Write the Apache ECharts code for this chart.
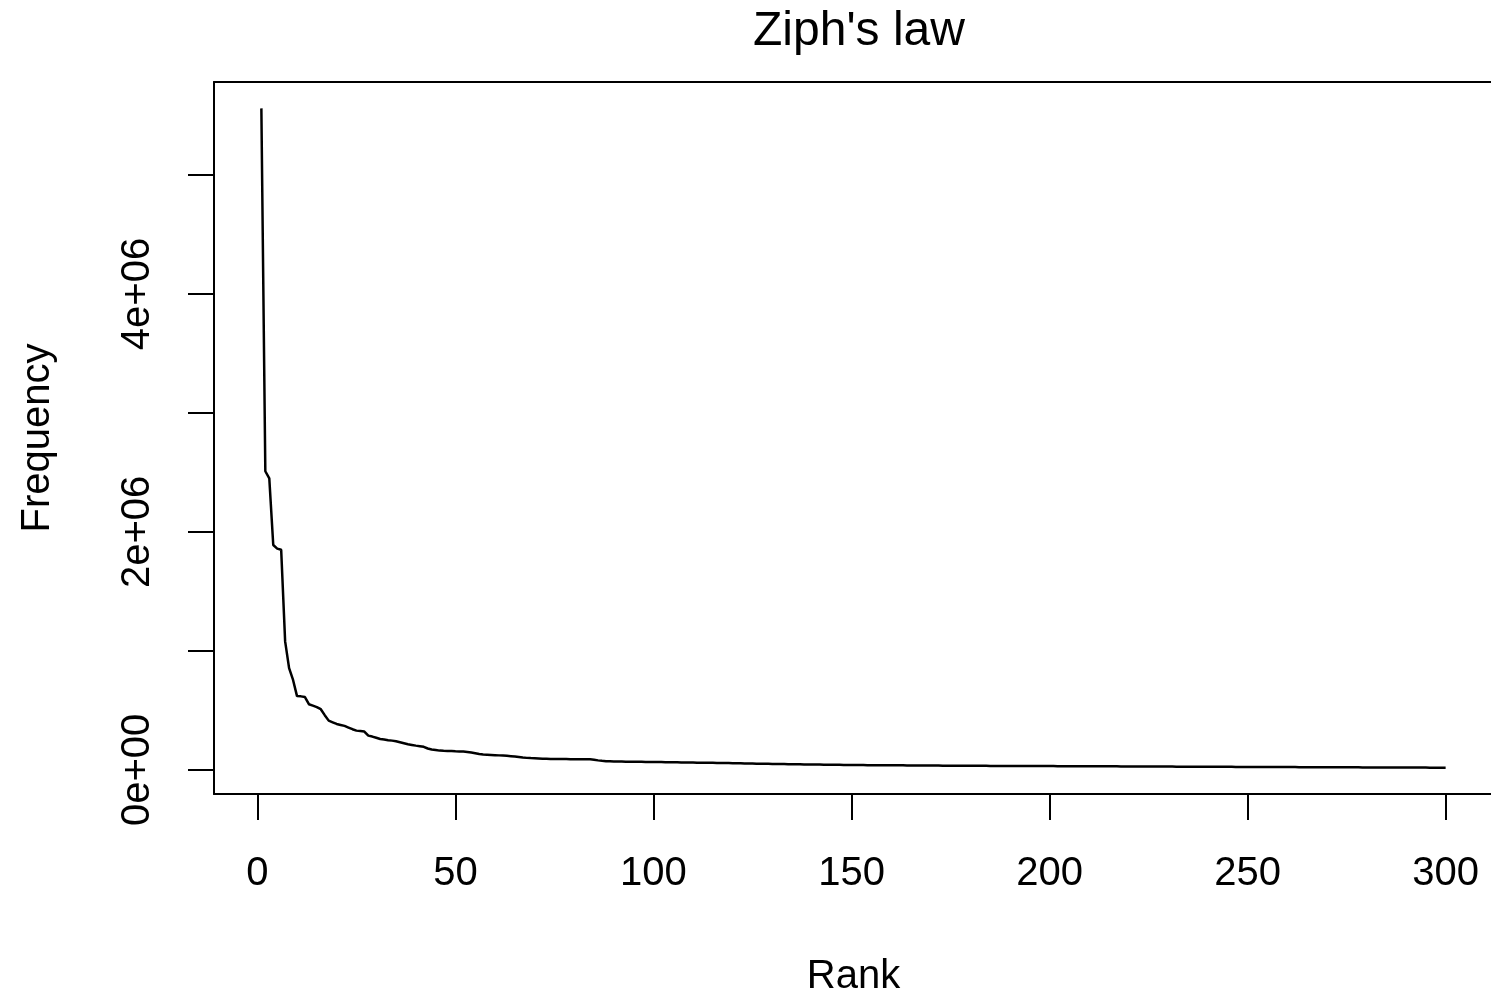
<!DOCTYPE html>
<html>
<head>
<meta charset="utf-8">
<title>Ziph's law</title>
<script src="https://cdn.jsdelivr.net/npm/echarts@6/dist/echarts.min.js"></script>
<style>
  html, body { margin: 0; padding: 0; background: #fff; }
  #chart { width: 1491px; height: 997px; }
</style>
</head>
<body>
<div id="chart"></div>
<script>
// Word frequency by rank (frequency in thousands of occurrences), ranks 1..300
const freqThousands = [
  5560, 2510, 2450, 1890, 1860, 1850, 1080, 855, 756, 620,
  618, 612, 552, 540, 528, 510, 460, 414, 400, 386,
  378, 370, 356, 342, 330, 326, 322, 288, 280, 270,
  260, 256, 250, 246, 240, 232, 224, 216, 210, 204,
  199, 194, 180, 172, 168, 162, 160, 159, 158, 156,
  155, 154, 151, 146, 140, 134, 130, 128, 126, 124,
  122, 120, 118, 115, 112, 108, 104, 101, 99, 98,
  96, 94, 93, 92, 92, 91, 91, 91, 90, 90,
  90, 90, 89, 89, 86, 80, 76, 73, 72, 71,
  70, 70, 69, 69, 68, 68, 68, 67, 67, 67,
  66, 66, 65, 65, 64, 64, 63, 63, 62, 62,
  61, 61, 60, 59, 59, 58, 58, 57, 57, 56,
  55, 55, 54, 53, 53, 52, 52, 51, 51, 50,
  50, 49, 49, 48, 48, 47, 47, 46, 46, 45,
  45, 45, 44, 44, 43, 43, 43, 42, 42, 42,
  41, 41, 41, 40, 40, 39, 39, 39, 39, 38,
  38, 38, 38, 37, 37, 37, 37, 36, 36, 36,
  36, 36, 35, 35, 35, 35, 35, 35, 34, 34,
  34, 34, 34, 34, 33, 33, 33, 33, 33, 33,
  33, 33, 32, 32, 32, 32, 32, 32, 32, 32,
  32, 31, 31, 31, 31, 31, 31, 31, 31, 31,
  30, 30, 30, 30, 30, 30, 30, 29, 29, 29,
  29, 29, 29, 29, 28, 28, 28, 28, 28, 28,
  28, 27, 27, 27, 27, 27, 27, 27, 26, 26,
  26, 26, 26, 26, 26, 26, 25, 25, 25, 25,
  25, 25, 25, 25, 24, 24, 24, 24, 24, 24,
  24, 24, 23, 23, 23, 23, 23, 23, 23, 23,
  22, 22, 22, 22, 22, 22, 22, 22, 21, 21,
  21, 21, 21, 21, 21, 21, 20, 20, 20, 20,
  20, 20, 20, 20, 20, 19, 19, 19, 19, 19
];

// Axis tick positions and labels
const xTicks = [0, 50, 100, 150, 200, 250, 300];
const yTicks = [0, 1000, 2000, 3000, 4000, 5000];
const yLabelValues = [0, 2000, 4000];
const yLabelTexts = ['0e+00', '2e+06', '4e+06'];

const FONT = "'Liberation Sans', Arial, Helvetica, sans-serif";

const seriesData = freqThousands.map((f, i) => [i + 1, f]);

const chart = echarts.init(document.getElementById('chart'), null, { renderer: 'canvas' });

const frameLine = { show: true, onZero: false, lineStyle: { color: '#000', width: 2 } };
const X_MIN = -10.96, X_MAX = 311.96;

chart.setOption({
  animation: false,
  backgroundColor: '#ffffff',
  title: {
    text: "Ziph's law",
    left: 854,
    top: 3,
    textAlign: 'center',
    textStyle: { fontFamily: FONT, fontSize: 48, fontWeight: 'normal', color: '#000' }
  },
  grid: {
    left: 214,
    top: 82,
    width: 1279,
    height: 712,
    show: false,
    containLabel: false,
    outerBoundsMode: 'none'
  },
  xAxis: [{
    type: 'value',
    position: 'bottom',
    min: X_MIN,
    max: X_MAX,
    name: 'Rank',
    nameLocation: 'middle',
    nameGap: 163,
    nameTextStyle: { fontFamily: FONT, fontSize: 40, color: '#000' },
    axisLine: frameLine,
    axisTick: { show: true, inside: false, length: 26, customValues: xTicks, lineStyle: { color: '#000', width: 2 } },
    axisLabel: {
      customValues: xTicks,
      margin: 60,
      fontFamily: FONT, fontSize: 40, color: '#000'
    },
    splitLine: { show: false }
  }, {
    // top edge of the plot frame
    type: 'value',
    position: 'top',
    min: X_MIN,
    max: X_MAX,
    axisLine: frameLine,
    axisTick: { show: false },
    axisLabel: { show: false },
    splitLine: { show: false }
  }],
  yAxis: {
    type: 'value',
    min: -202.64,
    max: 5781.64,
    name: 'Frequency',
    nameLocation: 'middle',
    nameGap: 156,
    nameRotate: 90,
    nameTextStyle: { fontFamily: FONT, fontSize: 40, color: '#000' },
    axisLine: frameLine,
    axisTick: { show: true, inside: false, length: 26, customValues: yTicks, lineStyle: { color: '#000', width: 2 } },
    axisLabel: {
      customValues: yLabelValues,
      rotate: 90,
      margin: 56,
      fontFamily: FONT, fontSize: 40, color: '#000',
      formatter: (v) => {
        const idx = yLabelValues.indexOf(v);
        return idx >= 0 ? yLabelTexts[idx] : '';
      }
    },
    splitLine: { show: false }
  },
  series: [{
    type: 'line',
    xAxisIndex: 0,
    data: seriesData,
    symbol: 'none',
    lineStyle: { color: '#000', width: 2.5 },
    clip: true
  }]
});
</script>
</body>
</html>
